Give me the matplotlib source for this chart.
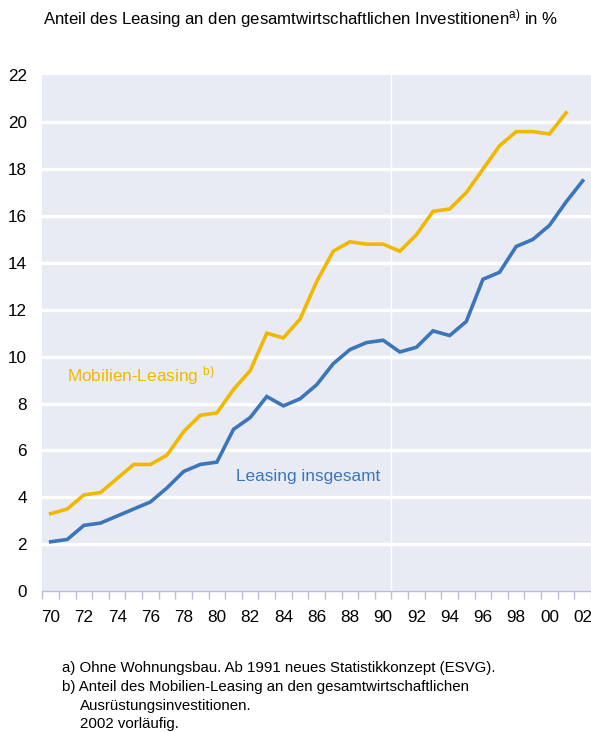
import numpy as np
import matplotlib.pyplot as plt

plt.rcParams['font.family'] = ['Liberation Sans', 'DejaVu Sans']
plt.rcParams['mathtext.fontset'] = 'custom'
plt.rcParams['mathtext.rm'] = 'Liberation Sans'
plt.rcParams['mathtext.it'] = 'Liberation Sans:italic'

# Data (share of leasing in investment, %)
years = list(range(1970, 2003))
leasing_total = [2.1, 2.2, 2.8, 2.9, 3.2, 3.5, 3.8, 4.4, 5.1, 5.4, 5.5, 6.9,
                 7.4, 8.3, 7.9, 8.2, 8.8, 9.7, 10.3, 10.6, 10.7, 10.2, 10.4,
                 11.1, 10.9, 11.5, 13.3, 13.6, 14.7, 15.0, 15.6, 16.6, 17.5]
mobilien_leasing = [3.3, 3.5, 4.1, 4.2, 4.8, 5.4, 5.4, 5.8, 6.8, 7.5, 7.6, 8.6,
                    9.4, 11.0, 10.8, 11.6, 13.2, 14.5, 14.9, 14.8, 14.8, 14.5,
                    15.2, 16.2, 16.3, 17.0, 18.0, 19.0, 19.6, 19.6, 19.5, 20.4]
yticks = list(range(0, 23, 2))

yellow = '#F2B800'
blue = '#3B76BB'
bg = '#E8EBF4'

fig = plt.figure(figsize=(5.91, 7.32), dpi=100)
ax = fig.add_axes([0.0716, 0.1926, 0.9284, 0.7044])
ax.set_facecolor(bg)

idx_total = np.arange(len(leasing_total))
idx_mob = np.arange(len(mobilien_leasing))

# white grid lines and structural break 1990/91
for v in yticks[1:-1]:
    ax.axhline(v, color='white', lw=2.4, zorder=1)
ax.axvline(20.5, color='white', lw=1.0, zorder=1)

ax.plot(idx_mob, mobilien_leasing, color=yellow, lw=2.6, zorder=3,
        solid_joinstyle='miter')
ax.plot(idx_total, leasing_total, color=blue, lw=2.6, zorder=3,
        solid_joinstyle='miter')

ax.set_xlim(-0.5, len(years) - 0.5)
ax.set_ylim(0, 22)
ax.set_yticks(yticks)
ax.set_yticklabels([str(v) for v in yticks])

# ticks on year boundaries, labels every second year
ax.set_xticks(np.arange(-0.5, len(years) + 0.5, 1))
ax.set_xticklabels([])
ax.set_xticks(np.arange(0, len(years), 2), minor=True)
ax.set_xticklabels(['%02d' % (y % 100) for y in years[::2]], minor=True)
ax.tick_params(axis='x', which='major', length=6, color='#B9BDD9', width=1)
ax.tick_params(axis='x', which='minor', length=0, pad=14, labelsize=12.3)
ax.tick_params(axis='y', length=0, pad=11, labelsize=12.3)

for s in ['top', 'right', 'left']:
    ax.spines[s].set_visible(False)
ax.spines['bottom'].set_color('#B9BDD9')
ax.spines['bottom'].set_linewidth(1)

ax.text(1.0, 9.2, r'Mobilien-Leasing $^{\mathrm{b)}}$', color=yellow,
        fontsize=12.4, va='center', ha='left')
ax.text(11.15, 4.9, 'Leasing insgesamt', color=blue, fontsize=12.4,
        va='center', ha='left')

fig.text(0.073, 0.975, r'Anteil des Leasing an den gesamtwirtschaftlichen Investitionen$^{\mathrm{a)}}$ in %',
         fontsize=12.1, va='center', ha='left')

fn_x = 62 / 591
fig.text(fn_x, 1 - 668 / 732, 'a) Ohne Wohnungsbau. Ab 1991 neues Statistikkonzept (ESVG).',
         fontsize=10.8, va='center')
fig.text(fn_x, 1 - 687 / 732, 'b) Anteil des Mobilien-Leasing an den gesamtwirtschaftlichen',
         fontsize=10.8, va='center')
fig.text(80 / 591, 1 - 706 / 732, 'Ausrüstungsinvestitionen.', fontsize=10.8, va='center')
fig.text(80 / 591, 1 - 724 / 732, '2002 vorläufig.', fontsize=10.8, va='center')

fig.savefig('out.png', dpi=100)
